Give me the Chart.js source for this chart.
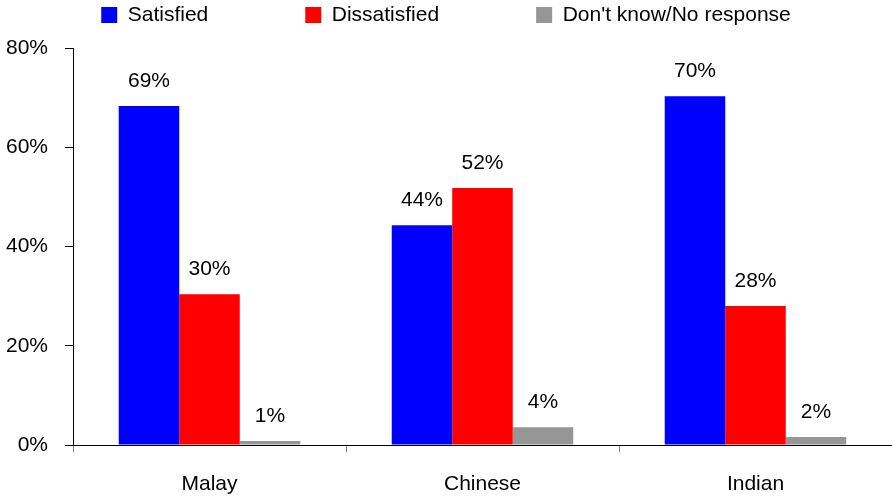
<!DOCTYPE html>
<html>
<head>
<meta charset="utf-8">
<script src="https://cdn.jsdelivr.net/npm/chart.js@4"></script>
<style>
    body { margin: 0; background: #fff; }
    #caja { width: 892px; height: 500px; }
</style>
</head>
<body>
<div id="caja"><canvas id="grafico"></canvas></div>
<script>
const grupos = ["Malay", "Chinese", "Indian"];
const series = ["Satisfied", "Dissatisfied", "Don't know/No response"];

// valores (altura de las barras)
const satisfechos = [68.3, 44.3, 70.3];
const insatisfechos = [30.4, 51.8, 28.0];
const noSabe = [0.8, 3.6, 1.6];

// etiquetas impresas sobre las barras
const textoSatisfechos = ["69%", "44%", "70%"];
const textoInsatisfechos = ["30%", "52%", "28%"];
const textoNoSabe = ["1%", "4%", "2%"];

const ticksY = [0, 20, 40, 60, 80];

const fuente = "'Liberation Sans Narrow', 'Arial Narrow', 'Liberation Sans', Arial, sans-serif";
const tamano = 21;
Chart.defaults.font.family = fuente;
Chart.defaults.font.size = tamano;
Chart.defaults.color = "#000";

const etiquetasBarras = {
    id: "etiquetasBarras",
    afterDatasetsDraw(chart) {
        const ctx = chart.ctx;
        ctx.save();
        ctx.font = `${tamano}px ${fuente}`;
        ctx.fillStyle = "#000";
        ctx.textAlign = "center";
        ctx.textBaseline = "alphabetic";
        chart.data.datasets.forEach((ds, i) => {
            chart.getDatasetMeta(i).data.forEach((barra, j) => {
                ctx.fillText(ds.textos[j], barra.x, barra.y - 19);
            });
        });
        ctx.restore();
    }
};

// la leyenda usa el mismo padding para separar items y para el alto
const leyendaCompacta = {
    id: "leyendaCompacta",
    afterInit(chart) {
        const fitOriginal = chart.legend.fit;
        chart.legend.fit = function () {
            fitOriginal.call(this);
            this.height = 48;
        };
    },
    afterLayout(chart) {
        chart.legend.top = 4.5 - chart.legend.options.labels.padding;
    }
};

const ctx = document.getElementById("grafico");
new Chart(ctx, {
    type: "bar",
    data: {
        labels: grupos,
        datasets: [
            { label: series[0], data: satisfechos, textos: textoSatisfechos, backgroundColor: "#0000ff" },
            { label: series[1], data: insatisfechos, textos: textoInsatisfechos, backgroundColor: "#ff0000" },
            { label: series[2], data: noSabe, textos: textoNoSabe, backgroundColor: "#969696" },
        ],
    },
    options: {
        responsive: true,
        maintainAspectRatio: false,
        animation: false,
        layout: { padding: 0 },
        datasets: {
            bar: { categoryPercentage: 0.665, barPercentage: 1 }
        },
        plugins: {
            legend: {
                position: "top",
                labels: {
                    boxWidth: 16,
                    boxHeight: 16,
                    padding: 97,
                    color: "#000",
                },
            },
            tooltip: { enabled: false },
        },
        scales: {
            x: {
                grid: {
                    offset: true,
                    drawOnChartArea: false,
                    tickLength: 7,
                    color: "#808080",
                },
                border: { color: "#000", width: 1 },
                ticks: { padding: 20 },
                afterFit(escala) { escala.height = 55; },
            },
            y: {
                min: 0,
                max: 80,
                afterBuildTicks(escala) {
                    escala.ticks = ticksY.map(v => ({ value: v }));
                },
                grid: {
                    drawOnChartArea: false,
                    tickLength: 8,
                    color: "#000",
                },
                border: { color: "#000", width: 1 },
                ticks: {
                    padding: 17,
                    callback: v => v + "%",
                },
                afterFit(escala) { escala.width = 73; },
            },
        },
    },
    plugins: [etiquetasBarras, leyendaCompacta],
});
</script>
</body>
</html>
